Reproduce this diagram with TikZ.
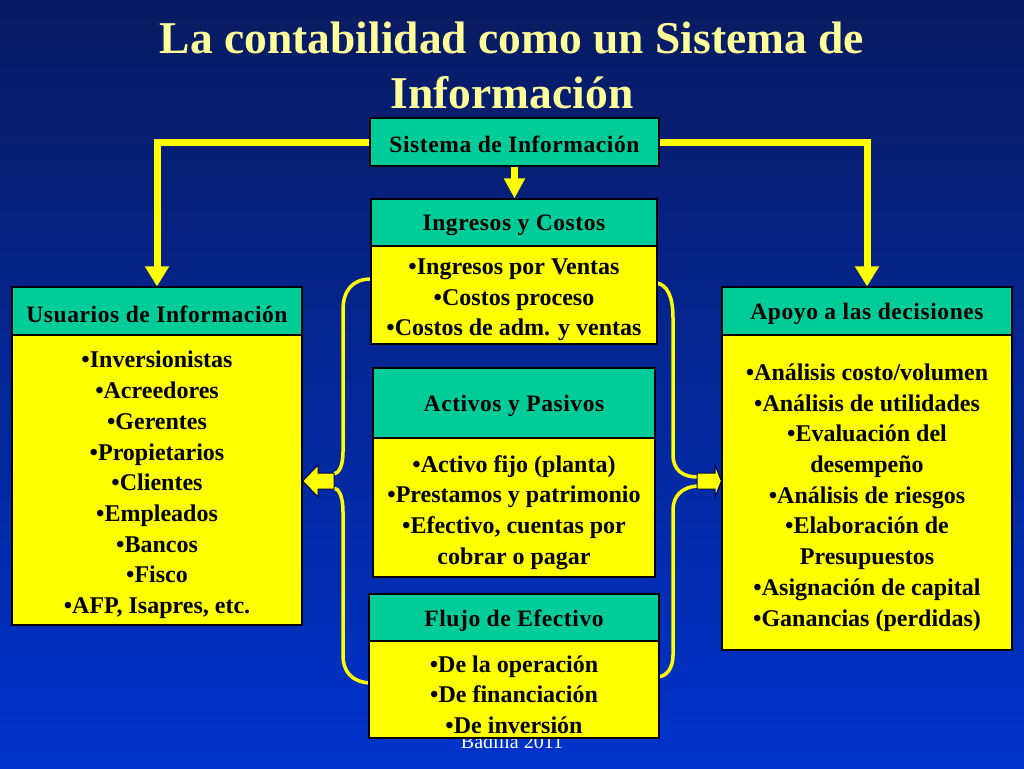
\documentclass[tikz,border=0pt]{standalone}
\usepackage{fontspec}
\setmainfont{Liberation Serif}
\newfontfamily\hdrf[LetterSpace=2.5]{Liberation Serif}
\usetikzlibrary{arrows.meta,calc}
\definecolor{bgtop}{RGB}{8,26,96}
\definecolor{bgbot}{RGB}{0,51,204}
\definecolor{hdrteal}{RGB}{0,204,153}
\definecolor{boxyel}{RGB}{255,255,0}
\definecolor{ttlyel}{RGB}{255,255,153}
\tikzset{
  hdrbox/.style={draw=black, line width=1.2pt, fill=hdrteal, inner sep=0pt},
  bodybox/.style={draw=black, line width=1.2pt, fill=boxyel, inner sep=0pt},
  hdrtext/.style={inner sep=0pt, font=\hdrf\bfseries\fontsize{23.5}{28}\selectfont},
  bodytext/.style={inner sep=0pt, align=center, font=\bfseries\fontsize{24}{30.7}\selectfont},
  conn/.style={draw=boxyel, line width=7pt, -{Triangle[width=23pt,length=20pt]}},
  bracepath/.style={draw=boxyel, line width=3.5pt},
  blockarrow/.style={fill=boxyel, draw=black!70!blue, line width=1pt},
  ttl/.style={text=ttlyel, font=\bfseries\fontsize{45.5}{54}\selectfont, anchor=base},
}
\begin{document}
\begin{tikzpicture}[x=1pt,y=-1pt]
\useasboundingbox (0,0) rectangle (1024,768);
\fill[top color=bgtop, bottom color=bgbot] (0,0) rectangle (1024,768);

% title
\node[ttl] (t1) at (512,54) {La contabilidad como un Sistema de};
\node[ttl] (t2) at (512,108) {Información};

% footer (partly hidden)
\node[anchor=base, text=white, font=\fontsize{20}{24}\selectfont] (foot) at (512,748) {Badilla 2011};

% brace coordinates
\coordinate (lt) at (334,474);
\coordinate (lb) at (334,488);
\coordinate (rt) at (697,477);
\coordinate (rb) at (697,486);

% braces
\draw[bracepath] (371,279) .. controls (352,279) and (343,291) .. (343,310) -- (343,452)
   .. controls (343,466) and (339,473) .. (lt);
\draw[bracepath] (lb) .. controls (339,489) and (343,496) .. (343,512) -- (343,655)
   .. controls (343,672) and (352,682) .. (370,683);
\draw[bracepath] (657,283) .. controls (667,285) and (673,296) .. (673,318) -- (673,455)
   .. controls (673,470) and (683,477) .. (rt);
\draw[bracepath] (rb) .. controls (683,487) and (673,495) .. (673,510) -- (673,655)
   .. controls (673,668) and (667,676) .. (658,677);

% boxes
\node[hdrbox, minimum width=289pt, minimum height=48pt] (sis) at (514.5,142) {};
\node[hdrtext] (sisT) at ($(sis.center)+(0,2)$) {Sistema de Información};

\node[hdrbox, minimum width=286pt, minimum height=47pt] (ingH) at (514,222.5) {};
\node[hdrtext] (ingHT) at ($(ingH.center)+(0,3)$) {Ingresos y Costos};
\node[bodybox, minimum width=286pt, minimum height=98pt] (ingB) at (514,295) {};
\node[bodytext] (ingBT) at ($(ingB.center)+(0,5)$)
  {•Ingresos por Ventas\\•Costos proceso\\•Costos de adm. y ventas};

\node[hdrbox, minimum width=282pt, minimum height=70pt] (actH) at (514,403) {};
\node[hdrtext] (actHT) at ($(actH.center)+(0,3)$) {Activos y Pasivos};
\node[bodybox, minimum width=282pt, minimum height=139pt] (actB) at (514,507.5) {};
\node[bodytext] (actBT) at ($(actB.center)+(0,5)$)
  {•Activo fijo (planta)\\•Prestamos y patrimonio\\•Efectivo, cuentas por\\cobrar o pagar};

\node[hdrbox, minimum width=290pt, minimum height=47pt] (fluH) at (514,617.5) {};
\node[hdrtext] (fluHT) at ($(fluH.center)+(0,3)$) {Flujo de Efectivo};
\node[bodybox, minimum width=290pt, minimum height=97pt] (fluB) at (514,689.5) {};
\node[bodytext] (fluBT) at ($(fluB.center)+(0,5)$)
  {•De la operación\\•De financiación\\•De inversión};

\node[hdrbox, minimum width=290pt, minimum height=48pt] (usrH) at (157,311) {};
\node[hdrtext] (usrHT) at ($(usrH.center)+(0,3)$) {Usuarios de Información};
\node[bodybox, minimum width=290pt, minimum height=290pt] (usrB) at (157,480) {};
\node[bodytext] (usrBT) at ($(usrB.center)+(0,5)$)
  {•Inversionistas\\•Acreedores\\•Gerentes\\•Propietarios\\•Clientes\\•Empleados\\•Bancos\\•Fisco\\•AFP, Isapres, etc.};

\node[hdrbox, minimum width=290pt, minimum height=48pt] (apoH) at (867,311) {};
\node[hdrtext] (apoHT) at ($(apoH.center)+(0,3)$) {Apoyo a las decisiones};
\node[bodybox, minimum width=290pt, minimum height=315pt] (apoB) at (867,492.5) {};
\node[bodytext] (apoBT) at ($(apoB.center)+(0,5)$)
  {•Análisis costo/volumen\\•Análisis de utilidades\\•Evaluación del\\desempeño\\•Análisis de riesgos\\•Elaboración de\\Presupuestos\\•Asignación de capital\\•Ganancias (perdidas)};

% connectors from the top box
\draw[conn] (sis.west) -| (usrH.north);
\draw[conn] (sis.east) -| (apoH.north);
\draw[conn, -{Triangle[width=20pt,length=20pt]}] (sis.south) -- (sis.south |- ingH.north);

% block arrows
\draw[blockarrow] (334,473) -- (318,473) -- (318,465) -- (usrB.east |- 0,481) -- (318,497) -- (318,489) -- (334,489) -- cycle;
\draw[blockarrow] (697,473) -- (715,473) -- (715,465) -- (apoB.west |- 0,481) -- (715,497) -- (715,489) -- (697,489) -- cycle;
\end{tikzpicture}
\end{document}
